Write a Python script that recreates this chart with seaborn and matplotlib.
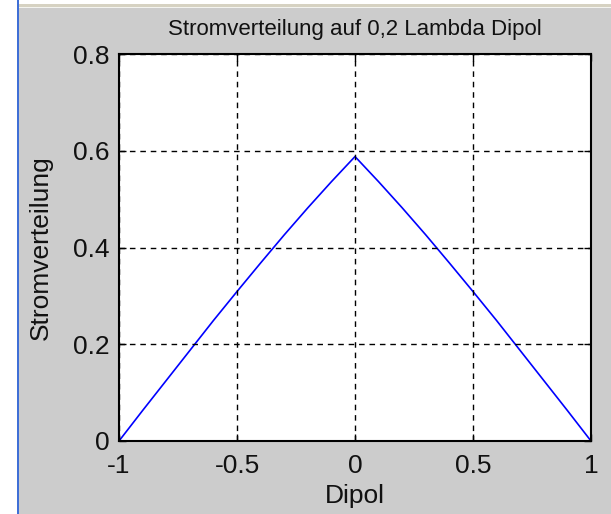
import numpy as np
import pandas as pd
import matplotlib
matplotlib.use("Agg")
import matplotlib.pyplot as plt
import seaborn as sns
from matplotlib.patches import Rectangle

# ---- data ----
dipol = [-1.0, -0.9, -0.8, -0.7, -0.6, -0.5, -0.4, -0.3, -0.2, -0.1, 0.0,
         0.1, 0.2, 0.3, 0.4, 0.5, 0.6, 0.7, 0.8, 0.9, 1.0]
strom = [0.0, 0.063, 0.125, 0.187, 0.249, 0.309, 0.368, 0.426, 0.482, 0.536, 0.588,
         0.536, 0.482, 0.426, 0.368, 0.309, 0.249, 0.187, 0.125, 0.063, 0.0]
x_ticks = [-1, -0.5, 0, 0.5, 1]
x_tick_labels = ["-1", "-0.5", "0", "0.5", "1"]
y_ticks = [0, 0.2, 0.4, 0.6, 0.8]
y_tick_labels = ["0", "0.2", "0.4", "0.6", "0.8"]
title = "Stromverteilung auf 0,2 Lambda Dipol"
xlabel = "Dipol"
ylabel = "Stromverteilung"

df = pd.DataFrame({"Dipol": dipol, "Strom": strom})

sns.set_style("white")
plt.rcParams["font.family"] = ["Liberation Sans", "DejaVu Sans"]

W, H = 611, 514
fig = plt.figure(figsize=(W / 100, H / 100), dpi=100, facecolor="#cccccc")
ax = fig.add_axes([119 / W, 1 - 441 / H, (591 - 119) / W, (441 - 54) / H])
ax.set_facecolor("white")

sns.lineplot(data=df, x="Dipol", y="Strom", ax=ax, color="#0000ff", linewidth=1.2)

ax.set_xlim(-1, 1)
ax.set_ylim(0, 0.8)
ax.set_xticks(x_ticks)
ax.set_xticklabels(x_tick_labels)
ax.set_yticks(y_ticks)
ax.set_yticklabels(y_tick_labels)

ax.grid(True, color="black", linestyle=(0, (4, 3.5)), linewidth=1.0)
ax.set_axisbelow(False)
for s in ax.spines.values():
    s.set_visible(True)
    s.set_color("black")
    s.set_linewidth(1.5)

ax.tick_params(direction="in", length=5, width=1, color="black",
               top=True, right=True, bottom=True, left=True,
               labelsize=19, labelcolor="#111111")
ax.tick_params(axis="x", pad=9.5)
ax.tick_params(axis="y", pad=7)

ax.set_title(title, fontsize=16, color="#111111", pad=14)
ax.set_xlabel(xlabel, fontsize=19, color="#111111", labelpad=4)
ax.set_ylabel(ylabel, fontsize=19, color="#111111", labelpad=14)

# window chrome
fig.patches.append(Rectangle((0, 0), 17 / W, 1, transform=fig.transFigure,
                             facecolor="white", edgecolor="none", zorder=-1))
fig.patches.append(Rectangle((17 / W, 0), 2 / W, 1, transform=fig.transFigure,
                             facecolor="#3f6fd6", edgecolor="none", zorder=0))
fig.patches.append(Rectangle((19 / W, 1 - 4 / H), 1, 4 / H, transform=fig.transFigure,
                             facecolor="white", edgecolor="none", zorder=0))
fig.patches.append(Rectangle((19 / W, 1 - 6.5 / H), 1, 2.5 / H, transform=fig.transFigure,
                             facecolor="#d6d2c2", edgecolor="none", zorder=0))
fig.patches.append(Rectangle((19 / W, 1 - 8 / H), 1, 1.5 / H, transform=fig.transFigure,
                             facecolor="#f4f4f0", edgecolor="none", zorder=0))

fig.savefig("out.png", dpi=100, facecolor=fig.get_facecolor())
